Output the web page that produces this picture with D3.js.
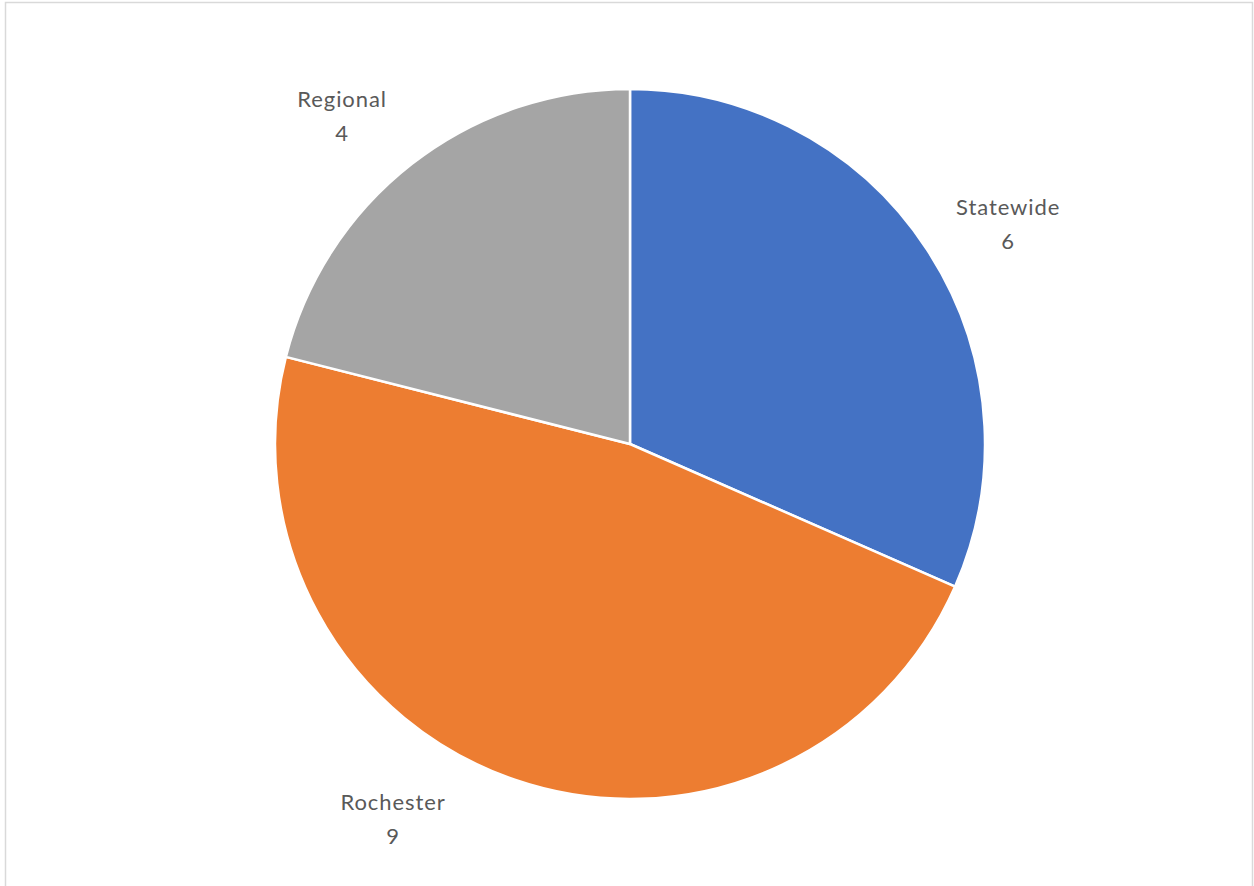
<!DOCTYPE html>
<html>
<head>
<meta charset="utf-8">
<script src="https://cdn.jsdelivr.net/npm/d3@7"></script>
<style>
  html, body { margin: 0; padding: 0; background: #fff; }
  svg { display: block; }
</style>
</head>
<body>
<svg id="chart" width="1254" height="886"></svg>
<script>
// Project counts by scope
const categories = ["Statewide", "Rochester", "Regional"];
const values = [6, 9, 4];
const colors = ["#4472C4", "#ED7D31", "#A5A5A5"];

const W = 1254, H = 886;
const cx = 630, cy = 444, radius = 355;
const labelRadius = 440;
// angular nudges (radians) for label placement outside the slices
const labelShift = [0.042, 0.238, -0.052];

const svg = d3.select("#chart");

// chart area frame
svg.append("rect")
  .attr("x", 5.5).attr("y", 2.5)
  .attr("width", W - 7).attr("height", H + 10)
  .attr("fill", "#fff")
  .attr("stroke", "#d9d9d9")
  .attr("stroke-width", 1.5);

const data = categories.map((c, i) => ({ name: c, value: values[i], color: colors[i] }));

const pie = d3.pie().value(d => d.value).sort(null);
const arcs = pie(data);

const arc = d3.arc().innerRadius(0).outerRadius(radius);

const g = svg.append("g").attr("transform", `translate(${cx},${cy})`);

g.selectAll("path.slice")
  .data(arcs)
  .join("path")
  .attr("class", "slice")
  .attr("d", arc)
  .attr("fill", d => d.data.color)
  .attr("stroke", "#fff")
  .attr("stroke-width", 2.5)
  .attr("stroke-linejoin", "round");

const labels = g.selectAll("text.lbl")
  .data(arcs)
  .join("text")
  .attr("class", "lbl")
  .attr("text-anchor", "middle")
  .attr("font-family", "Lato, 'Open Sans', sans-serif")
  .attr("font-size", 22)
  .attr("letter-spacing", 0.9)
  .attr("fill", "#595959")
  .attr("transform", (d, i) => {
    const a = (d.startAngle + d.endAngle) / 2 + labelShift[i];
    const x = labelRadius * Math.sin(a);
    const y = -labelRadius * Math.cos(a);
    return `translate(${x},${y})`;
  });

labels.append("tspan")
  .attr("x", 0).attr("dy", "-0.2em")
  .text(d => d.data.name);
labels.append("tspan")
  .attr("x", 0).attr("dy", "1.55em")
  .text(d => d.data.value);
</script>
</body>
</html>
